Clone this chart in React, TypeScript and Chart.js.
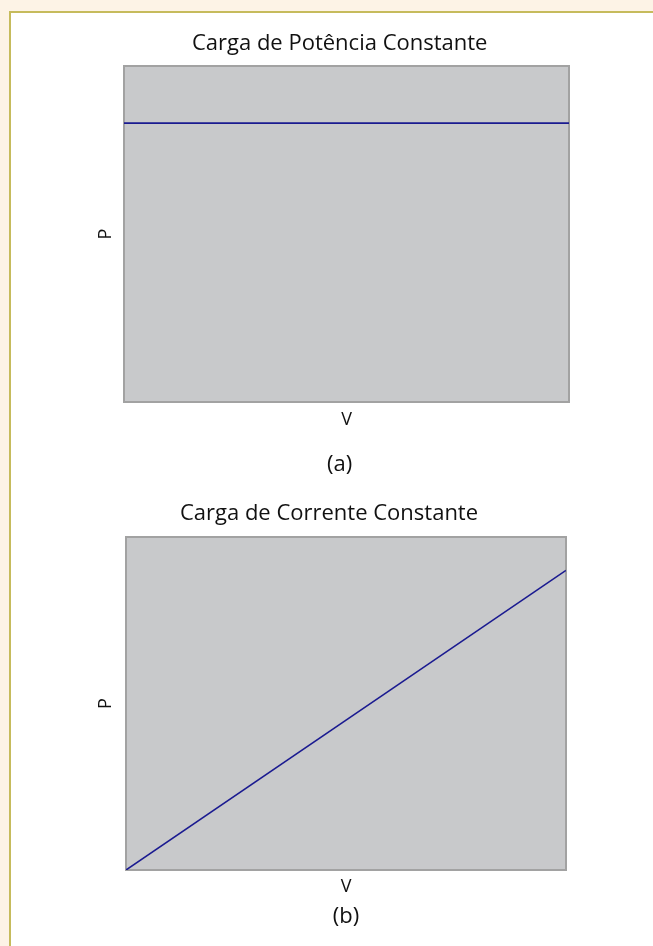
import { useEffect, useRef } from "react";
import { Chart, registerables } from "chart.js";

Chart.register(...registerables);

// Normalised voltage samples along the V axis
const voltage = [0, 1];
// Normalised power drawn by each load model
const constantPowerLoad = [0.83, 0.83];
const constantCurrentLoad = [0, 0.9];

const chartTitles = ["Carga de Potência Constante", "Carga de Corrente Constante"];
const captions = ["(a)", "(b)"];
const xAxisLabel = "V";
const yAxisLabel = "P";

const FONT = "'Open Sans', 'Noto Sans', sans-serif";
const TEXT_COLOR = "#111111";

// Grey plot background with a thin frame around the chart area
const plotFrame = {
  id: "plotFrame",
  beforeDraw(chart: any) {
    const { ctx, chartArea: a } = chart;
    ctx.save();
    ctx.fillStyle = "#c8c9cb";
    ctx.fillRect(a.left, a.top, a.right - a.left, a.bottom - a.top);
    ctx.restore();
  },
  beforeDatasetsDraw(chart: any) {
    const { ctx, chartArea: a } = chart;
    ctx.save();
    ctx.strokeStyle = "#a2a2a2";
    ctx.lineWidth = 2;
    ctx.strokeRect(a.left, a.top, a.right - a.left, a.bottom - a.top);
    ctx.restore();
  },
};

type PanelProps = {
  title: string;
  caption: string;
  values: number[];
  top: number;
  height: number;
  padLeft: number;
  padRight: number;
  titlePad: { top: number; bottom: number };
  captionPad: { top: number; bottom: number };
  captionFullSize: boolean;
  xAxisHeight: number;
  xTitlePadBottom: number;
  yAxisWidth: number;
  yTitlePadTop: number;
};

function LoadPanel(p: PanelProps) {
  const ref = useRef<HTMLCanvasElement | null>(null);

  useEffect(() => {
    if (!ref.current) return;
    const points = voltage.map((v, i) => ({ x: v, y: p.values[i] }));
    const chart = new Chart(ref.current, {
      type: "line",
      data: {
        datasets: [
          {
            data: points,
            borderColor: "#1a1a90",
            borderWidth: 1.6,
            pointRadius: 0,
            fill: false,
            tension: 0,
          },
        ],
      },
      options: {
        responsive: false,
        animation: false,
        layout: { padding: { left: p.padLeft, right: p.padRight, top: 0, bottom: 0 } },
        plugins: {
          legend: { display: false },
          tooltip: { enabled: false },
          title: {
            display: true,
            text: p.title,
            color: TEXT_COLOR,
            font: { family: FONT, size: 22, weight: "normal" },
            padding: p.titlePad,
          },
          subtitle: {
            display: true,
            position: "bottom",
            fullSize: p.captionFullSize,
            text: p.caption,
            color: TEXT_COLOR,
            font: { family: FONT, size: 22, weight: "normal" },
            padding: p.captionPad,
          },
        },
        scales: {
          x: {
            type: "linear",
            min: 0,
            max: 1,
            grid: { display: false },
            border: { display: false },
            ticks: { display: false },
            title: {
              display: true,
              text: xAxisLabel,
              color: TEXT_COLOR,
              font: { family: FONT, size: 18 },
              padding: { top: 0, bottom: p.xTitlePadBottom },
            },
            afterFit: (s: any) => {
              s.height = p.xAxisHeight;
            },
          },
          y: {
            type: "linear",
            min: 0,
            max: 1,
            grid: { display: false },
            border: { display: false },
            ticks: { display: false },
            title: {
              display: true,
              text: yAxisLabel,
              color: TEXT_COLOR,
              font: { family: FONT, size: 18 },
              padding: { top: p.yTitlePadTop, bottom: 0 },
            },
            afterFit: (s: any) => {
              s.width = p.yAxisWidth;
            },
          },
        },
      },
      plugins: [plotFrame],
    } as any);
    return () => chart.destroy();
  }, []);

  return (
    <canvas
      ref={ref}
      width={653}
      height={p.height}
      style={{ position: "absolute", left: 0, top: p.top, width: 653, height: p.height }}
    />
  );
}

export default function App() {
  return (
    <div
      style={{
        position: "absolute",
        left: 0,
        top: 0,
        width: 653,
        height: 946,
        overflow: "hidden",
        background: "#fdf3e6",
      }}
    >
      <div
        style={{
          position: "absolute",
          left: 9,
          top: 11,
          width: 700,
          height: 1000,
          background: "#ffffff",
          borderLeft: "2px solid #c6bb5c",
          borderTop: "2px solid #c6bb5c",
        }}
      />
      <LoadPanel
        title={chartTitles[0]}
        caption={captions[0]}
        values={constantPowerLoad}
        top={0}
        height={480}
        padLeft={110.4}
        padRight={84}
        titlePad={{ top: 30.8, bottom: 8.8 }}
        captionPad={{ top: 13.8, bottom: 1.8 }}
        captionFullSize={true}
        xAxisHeight={36}
        xTitlePadBottom={7.7}
        yAxisWidth={13.6}
        yTitlePadTop={-14.9}
      />
      <LoadPanel
        title={chartTitles[1]}
        caption={captions[1]}
        values={constantCurrentLoad}
        top={480}
        height={466}
        padLeft={92}
        padRight={87}
        titlePad={{ top: 20.8, bottom: 9.8 }}
        captionPad={{ top: 3.3, bottom: 16.3 }}
        captionFullSize={false}
        xAxisHeight={30}
        xTitlePadBottom={2.7}
        yAxisWidth={34}
        yTitlePadTop={3.2}
      />
    </div>
  );
}
